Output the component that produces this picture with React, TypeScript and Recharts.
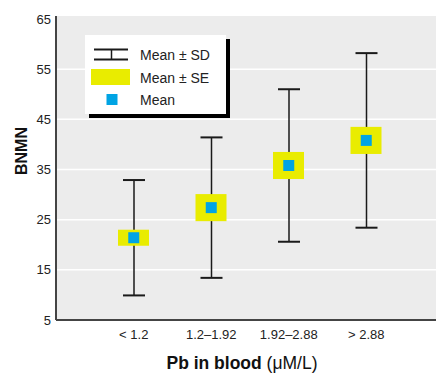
import React from 'react';
import { ComposedChart, Bar, Scatter, XAxis, YAxis, CartesianGrid, Legend } from 'recharts';

const categories = ['< 1.2', '1.2–1.92', '1.92–2.88', '> 2.88'];
const means = [21.4, 27.4, 35.8, 40.8];
const sds = [11.5, 14.0, 15.2, 17.4];
const ses = [1.6, 2.7, 2.7, 2.7];
const yTicks = [5, 15, 25, 35, 45, 55, 65];
const gridValues = [15, 25, 35, 45, 55];

const data = categories.map((cat, i) => ({
  cat,
  mean: means[i],
  sdRange: [means[i] - sds[i], means[i] + sds[i]],
  seRange: [means[i] - ses[i], means[i] + ses[i]],
}));

const FONT = '"Liberation Sans", Arial, sans-serif';
const YELLOW = '#e9ec00';
const BLUE = '#00a4e4';
const BG = '#ececec';
const AXIS = '#444444';

const Whisker = (props: any) => {
  const { x, y, width, height } = props;
  const top = Math.min(y, y + height);
  const bot = Math.max(y, y + height);
  const cx = x + width / 2;
  return (
    <g>
      <line x1={cx} x2={cx} y1={top} y2={bot} stroke="#1a1a1a" strokeWidth={1.5} />
      <line x1={x} x2={x + width} y1={top} y2={top} stroke="#1a1a1a" strokeWidth={2} />
      <line x1={x} x2={x + width} y1={bot} y2={bot} stroke="#1a1a1a" strokeWidth={2} />
    </g>
  );
};

const MeanSquare = (props: any) => {
  const { cx, cy } = props;
  return <rect x={cx - 5.5} y={cy - 5.5} width={11} height={11} fill={BLUE} />;
};

const LegendBox = () => (
  <svg width={146} height={84} style={{ display: 'block', fontFamily: FONT }}>
    <rect x={4} y={4} width={141} height={79} fill="#000" />
    <rect x={0} y={0} width={141} height={79} fill="#fff" />
    <line x1={9} x2={43} y1={14.5} y2={14.5} stroke="#1a1a1a" strokeWidth={2} />
    <line x1={9} x2={43} y1={24.5} y2={24.5} stroke="#1a1a1a" strokeWidth={2} />
    <line x1={26.5} x2={26.5} y1={14.5} y2={24.5} stroke="#1a1a1a" strokeWidth={1.5} />
    <rect x={6} y={34} width={39} height={16} fill={YELLOW} />
    <rect x={21.5} y={59} width={11} height={11} fill={BLUE} />
    <text x={55} y={20} dominantBaseline="central" fontSize={14} fill="#222">Mean ± SD</text>
    <text x={55} y={43} dominantBaseline="central" fontSize={14} fill="#222">Mean ± SE</text>
    <text x={55} y={64.5} dominantBaseline="central" fontSize={14} fill="#222">Mean</text>
  </svg>
);

const YTitle = () => (
  <text
    x={21}
    y={151}
    transform="rotate(-90 21 151)"
    textAnchor="middle"
    dominantBaseline="central"
    fontWeight="bold"
    fontSize={16}
    fill="#111"
    style={{ fontFamily: FONT }}
  >
    BNMN
  </text>
);

const XTitle = () => (
  <text x={242} y={369} textAnchor="middle" fontSize={17.5} fill="#111" style={{ fontFamily: FONT }}>
    <tspan fontWeight="bold">Pb in blood</tspan>
    <tspan> (μM/L)</tspan>
  </text>
);

export default function App() {
  return (
    <div style={{ position: 'absolute', left: 0, top: 0, fontFamily: FONT }}>
      <ComposedChart width={436} height={375} data={data} margin={{ top: 16, right: 0, bottom: 0, left: 0 }}>
        <CartesianGrid
          xAxisId="main"
          vertical={false}
          fill={BG}
          stroke="#ffffff"
          strokeWidth={1.5}
          horizontalValues={gridValues}
        />
        <XAxis
          xAxisId="main"
          dataKey="cat"
          type="category"
          padding={{ left: 39, right: 31 }}
          height={55}
          tickLine={false}
          tickSize={0}
          tickMargin={10}
          interval={0}
          axisLine={{ stroke: AXIS, strokeWidth: 2 }}
          tick={{ fontSize: 13, fill: '#222', fontFamily: FONT }}
          label={<XTitle />}
        />
        <XAxis xAxisId="sd" dataKey="cat" type="category" padding={{ left: 39, right: 31 }} hide />
        <YAxis
          width={56}
          type="number"
          domain={[5, 65.6]}
          ticks={yTicks}
          allowDataOverflow
          tickLine={false}
          tickSize={0}
          tickMargin={5}
          axisLine={{ stroke: AXIS, strokeWidth: 2 }}
          tick={{ fontSize: 13, fill: '#222', fontFamily: FONT }}
          label={<YTitle />}
        />
        <Legend
          layout="vertical"
          align="center"
          verticalAlign="middle"
          content={<LegendBox />}
          wrapperStyle={{ left: 85, top: 35, width: 146, height: 84 }}
        />
        <Bar xAxisId="sd" dataKey="sdRange" barSize={22} shape={Whisker} isAnimationActive={false} legendType="none" />
        <Bar xAxisId="main" dataKey="seRange" barSize={31} fill={YELLOW} isAnimationActive={false} legendType="none" />
        <Scatter xAxisId="main" dataKey="mean" shape={MeanSquare} isAnimationActive={false} legendType="none" />
      </ComposedChart>
    </div>
  );
}
